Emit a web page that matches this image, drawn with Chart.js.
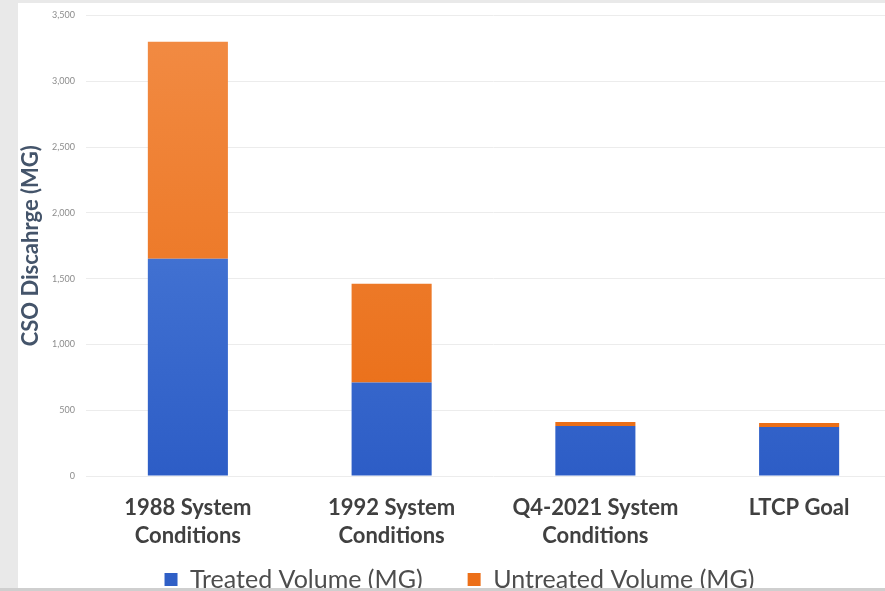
<!DOCTYPE html>
<html>
<head>
<meta charset="utf-8">
<script src="https://cdn.jsdelivr.net/npm/chart.js@4"></script>
<style>
  html, body { margin: 0; padding: 0; background: #e9e9e9; overflow: hidden; width: 885px; height: 591px; }
  .frame { position: absolute; left: 18px; top: 3px; width: 903px; height: 585px; background: #fff; overflow: hidden; }
  .frame canvas { position: absolute; left: 0; top: -4px; }
  .bottom-line { position: absolute; left: 0; top: 588px; width: 885px; height: 3px; background: #cfcfcf; }
</style>
</head>
<body>
<div class="frame"><canvas id="chart" width="903" height="603"></canvas></div>
<div class="bottom-line"></div>
<script>
    // Stacked CSO discharge by condition (MG)
    const categories = [["1988 System", "Conditions"], ["1992 System", "Conditions"], ["Q4-2021 System", "Conditions"], "LTCP Goal"];
    const treated = [1650, 710, 380, 373];
    const untreated = [1650, 750, 30, 30];
    const yTicks = [0, 500, 1000, 1500, 2000, 2500, 3000, 3500];

    const fmt = (n) => new Intl.NumberFormat("en-US").format(n);

    const grad = (top, bottom) => (ctx) => {
        const area = ctx.chart.chartArea;
        if (!area) return bottom;
        const g = ctx.chart.ctx.createLinearGradient(0, area.top, 0, area.bottom);
        g.addColorStop(0, top);
        g.addColorStop(1, bottom);
        return g;
    };

    new Chart(document.getElementById("chart"), {
        type: "bar",
        data: {
            labels: categories,
            datasets: [
                { label: "Treated Volume (MG)", data: treated, backgroundColor: grad("#5787de", "#2d5dc6"), borderWidth: 0 },
                { label: "Untreated Volume (MG)", data: untreated, backgroundColor: grad("#f28c45", "#e96b12"), borderWidth: 0 }
            ]
        },
        options: {
            responsive: false,
            animation: false,
            layout: { padding: { top: 8, right: 20, left: 0, bottom: 0 } },
            datasets: { bar: { barPercentage: 0.393, categoryPercentage: 1 } },
            plugins: {
                tooltip: { enabled: false },
                legend: {
                    position: "bottom",
                    labels: {
                        font: { family: "Lato", size: 25 },
                        color: "#4d4d4d",
                        boxWidth: 13,
                        boxHeight: 13,
                        padding: 45,
                        generateLabels: (chart) => chart.data.datasets.map((ds, i) => ({
                            text: ds.label,
                            fillStyle: i === 0 ? "#2f5fc6" : "#ec6f18",
                            strokeStyle: "transparent",
                            lineWidth: 0,
                            fontColor: "#4d4d4d",
                            datasetIndex: i
                        }))
                    }
                }
            },
            scales: {
                x: {
                    stacked: true,
                    grid: { display: false },
                    border: { display: false },
                    ticks: { color: "#404040", font: { family: "Lato", size: 22, weight: "bold", lineHeight: 1.27 }, padding: 10, maxRotation: 0 },
                    afterFit: (s) => {
                        s.height = 46;
                        // let the two-line labels run past the short axis box
                        s._computeLabelArea = () => undefined;
                    }
                },
                y: {
                    stacked: true,
                    min: 0,
                    max: 3500,
                    afterBuildTicks: (s) => { s.ticks = yTicks.map((v) => ({ value: v })); },
                    grid: { color: "#ececec", drawTicks: false },
                    border: { display: false },
                    ticks: { color: "#8c8c8c", font: { family: "Lato", size: 9 }, padding: 11, callback: (v) => fmt(v) },
                    title: { display: true, text: "CSO Discahrge (MG)", color: "#44546a", font: { family: "Lato", size: 22, weight: "bold" }, padding: 0 },
                    afterFit: (s) => { s.width = 68; }
                }
            }
        }
    });
</script>
</body>
</html>
